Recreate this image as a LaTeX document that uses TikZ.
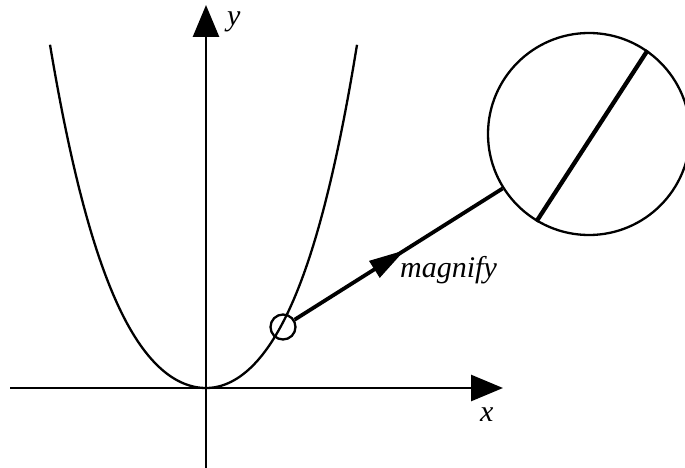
\documentclass[tikz,border=0pt]{standalone}
\usepackage{fontspec}
\setmainfont{Liberation Serif}
\usetikzlibrary{arrows.meta,decorations.markings}
\begin{document}
\begin{tikzpicture}[x=1pt,y=-1pt,
  axisline/.style={line width=2.7pt,-{Triangle[length=32pt,width=26pt]}},
  curveline/.style={line width=2.3pt,line join=round},
  ring/.style={circle,draw,line width=2.3pt,inner sep=0pt},
  lbl/.style={inner sep=0pt,font=\itshape\fontsize{30}{36}\selectfont},
  connector/.style={line width=3.8pt,postaction={decorate},
    decoration={markings,mark=at position 0.53 with {\arrow{Triangle[length=36pt,width=19pt]}}}},
  zoomline/.style={line width=4.3pt}]
\useasboundingbox (0,0) rectangle (685,468);
% axes
\coordinate (xs) at (10,388);
\coordinate (xe) at (503,388);
\coordinate (ys) at (206,468);
\coordinate (ye) at (206,5);
\draw[axisline] (xs) -- (xe);
\draw[axisline] (ys) -- (ye);
% curve
\draw[curveline] plot[domain=-1.56:0,samples=80] ({206+100*\x},{388-90.8*\x*\x-20.65*\x*\x*\x*\x})
  -- plot[domain=0:1.56,samples=80] ({206+96.8*\x},{388-90.8*\x*\x-20.65*\x*\x*\x*\x});
% circles
\node[ring,minimum size=25pt] (sc) at (283,327) {};
\node[ring,minimum size=202pt] (bc) at (589,134) {};
\draw[connector] (sc) -- (bc);
\draw[zoomline] (bc.239) -- (bc.55);
% labels
\node[lbl,anchor=base west] (ly) at (227,26) {y};
\node[lbl,anchor=base west] (lx) at (480,421) {x};
\node[lbl,anchor=base west] (lm) at (400,277) {magnify};
\end{tikzpicture}
\end{document}
